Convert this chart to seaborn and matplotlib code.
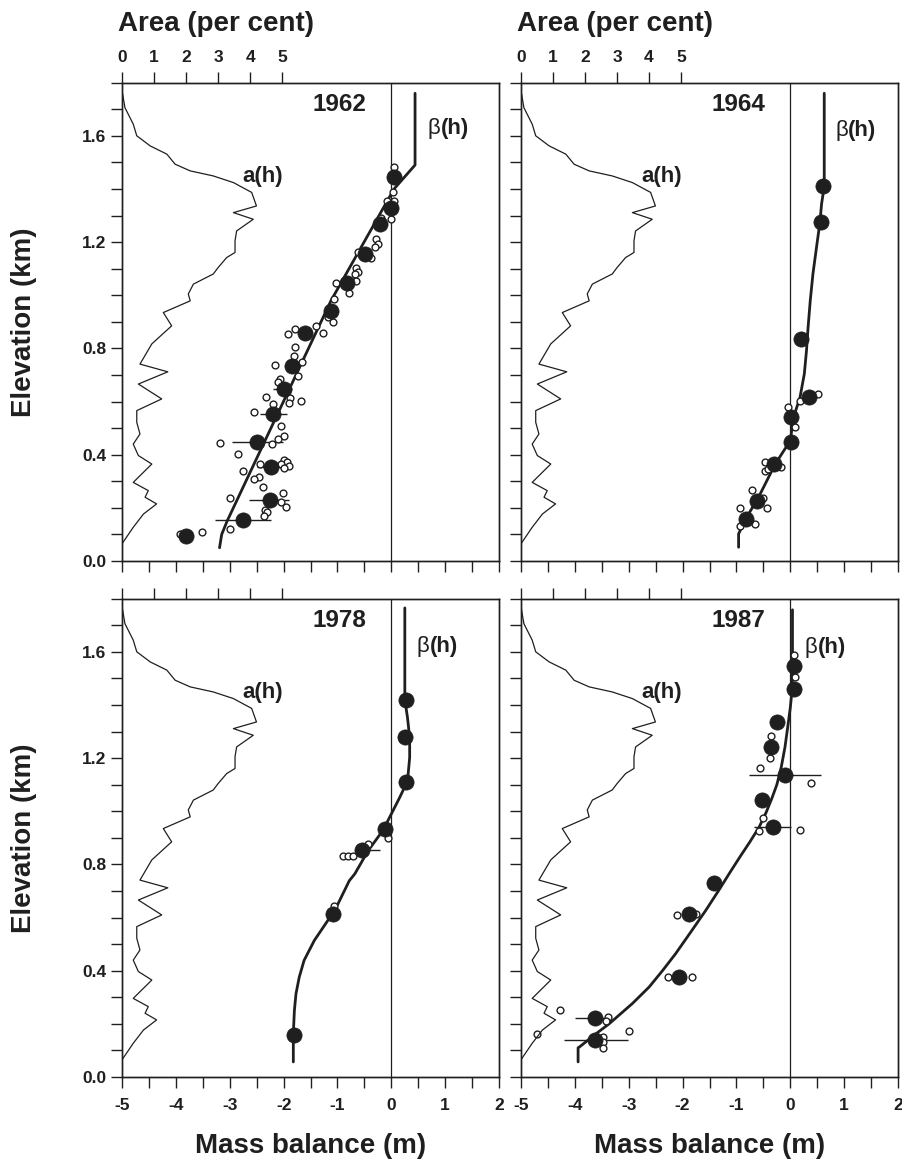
import numpy as np
import pandas as pd
import matplotlib
matplotlib.use("Agg")
import matplotlib.pyplot as plt
import seaborn as sns

# ---------------------------------------------------------------------------
# Area-altitude distribution a(h): per cent of glacier area vs elevation (km)
# ---------------------------------------------------------------------------
AREA_PCT = [0.00, 0.09, 0.35, 0.46, 0.88, 1.40, 1.66, 2.13, 2.85, 3.48, 4.05,
            4.20, 3.48, 4.10, 3.58, 3.53, 3.53, 3.27, 3.00, 2.85, 2.23, 2.07,
            2.13, 1.29, 1.55, 0.93, 0.56, 1.43, 0.51, 1.24, 0.46, 0.46, 0.56,
            0.35, 0.51, 0.93, 0.35, 0.82, 0.72, 1.08, 0.67, 0.35, 0.00]
AREA_H = [1.770, 1.706, 1.644, 1.600, 1.562, 1.531, 1.493, 1.468, 1.449, 1.424,
          1.387, 1.336, 1.311, 1.286, 1.242, 1.205, 1.161, 1.142, 1.104, 1.080,
          1.042, 1.005, 0.979, 0.935, 0.885, 0.817, 0.741, 0.712, 0.666, 0.610,
          0.566, 0.522, 0.478, 0.440, 0.397, 0.365, 0.296, 0.265, 0.240, 0.215,
          0.177, 0.127, 0.065]

YEARS = ["1962", "1964", "1978", "1987"]

# --- 1962 ---------------------------------------------------------------
BETA_1962_B = [-3.19, -3.15, -3.05, -1.12, 0.05, 0.44, 0.44]
BETA_1962_H = [0.05, 0.10, 0.15, 0.98, 1.40, 1.49, 1.76]
MEAN_1962_B = [0.05, -0.01, -0.22, -0.48, -0.82, -1.12, -1.60, -1.85, -2.00,
               -2.19, -2.49, -2.23, -2.26, -2.75, -3.81]
MEAN_1962_H = [1.445, 1.330, 1.268, 1.157, 1.048, 0.942, 0.858, 0.735, 0.647,
               0.553, 0.447, 0.353, 0.231, 0.155, 0.096]
STAKE_1962_B = [0.05, 0.03, -0.09, 0.05, -0.01, -0.20, -0.28, -0.25, -0.31,
                -0.37, -0.62, -0.65, -0.62, -0.68, -1.03, -0.65, -0.78, -1.06,
                -1.18, -1.08, -1.27, -1.40, -1.91, -1.79, -1.79, -1.80, -1.65,
                -2.16, -1.74, -2.07, -2.10, -2.33, -1.88, -1.68, -1.90, -2.19,
                -2.55, -2.05, -2.00, -2.10, -2.21, -3.19, -2.85, -2.43, -2.00,
                -1.94, -2.05, -1.90, -1.99, -2.75, -2.46, -2.55, -2.39, -2.99,
                -2.02, -2.05, -1.96, -2.35, -2.30, -2.36, -2.99, -3.92, -3.51]
STAKE_1962_H = [1.483, 1.387, 1.355, 1.355, 1.286, 1.292, 1.211, 1.192, 1.180,
                1.142, 1.161, 1.104, 1.086, 1.080, 1.048, 1.054, 1.010, 0.986,
                0.917, 0.898, 0.858, 0.885, 0.854, 0.873, 0.804, 0.773, 0.750,
                0.739, 0.697, 0.685, 0.672, 0.616, 0.613, 0.603, 0.593, 0.591,
                0.559, 0.507, 0.472, 0.459, 0.441, 0.443, 0.403, 0.365, 0.380,
                0.371, 0.365, 0.356, 0.349, 0.338, 0.318, 0.309, 0.280, 0.238,
                0.255, 0.221, 0.202, 0.192, 0.183, 0.171, 0.121, 0.102, 0.108]
ERR_1962_H = [0.647, 0.553, 0.447, 0.353, 0.231, 0.155]
ERR_1962_LO = [-2.20, -2.43, -2.95, -2.49, -2.64, -3.27]
ERR_1962_HI = [-1.85, -1.93, -2.02, -1.93, -1.90, -2.23]

# --- 1964 ---------------------------------------------------------------
BETA_1964_B = [0.63, 0.63, 0.58, 0.55, 0.49, 0.42, 0.37, 0.33, 0.30, 0.26,
               0.18, 0.06, 0.00, -0.28, -0.59, -0.81, -0.93, -0.96, -0.96]
BETA_1964_H = [1.76, 1.41, 1.343, 1.274, 1.186, 1.08, 0.979, 0.879, 0.791,
               0.704, 0.616, 0.541, 0.453, 0.365, 0.240, 0.165, 0.115, 0.102,
               0.052]
MEAN_1964_B = [0.61, 0.57, 0.20, 0.35, 0.02, 0.02, -0.30, -0.62, -0.82]
MEAN_1964_H = [1.412, 1.274, 0.835, 0.616, 0.543, 0.447, 0.365, 0.227, 0.159]
STAKE_1964_B = [0.52, 0.18, -0.04, 0.08, -0.47, -0.47, -0.17, -0.42, -0.71,
                -0.50, -0.44, -0.93, -0.65, -0.93]
STAKE_1964_H = [0.629, 0.603, 0.580, 0.506, 0.371, 0.338, 0.353, 0.345, 0.268,
                0.238, 0.200, 0.200, 0.140, 0.130]
ERR_1964_H = []
ERR_1964_LO = []
ERR_1964_HI = []

# --- 1978 ---------------------------------------------------------------
BETA_1978_B = [0.25, 0.25, 0.30, 0.34, 0.34, 0.30, 0.155, 0.00, -0.16, -0.43,
               -0.68, -0.78, -0.99, -1.18, -1.43, -1.62, -1.71, -1.77, -1.80,
               -1.82, -1.82]
BETA_1978_H = [1.765, 1.42, 1.352, 1.277, 1.202, 1.114, 1.052, 0.99, 0.927,
               0.852, 0.764, 0.739, 0.652, 0.589, 0.514, 0.439, 0.376, 0.314,
               0.251, 0.164, 0.057]
MEAN_1978_B = [0.28, 0.26, 0.28, -0.125, -0.54, -1.09, -1.80]
MEAN_1978_H = [1.417, 1.280, 1.111, 0.933, 0.855, 0.614, 0.160]
STAKE_1978_B = [-0.07, -0.90, -0.81, -0.71, -0.43, -1.06]
STAKE_1978_H = [0.898, 0.830, 0.830, 0.833, 0.877, 0.645]
ERR_1978_H = [0.855]
ERR_1978_LO = [-0.68]
ERR_1978_HI = [-0.22]

# --- 1987 ---------------------------------------------------------------
BETA_1987_B = [0.04, 0.04, 0.03, 0.00, -0.05, -0.10, -0.17, -0.25, -0.34,
               -0.45, -0.58, -0.75, -0.93, -1.12, -1.33, -1.57, -1.85, -2.13,
               -2.37, -2.62, -2.93, -3.36, -3.60, -3.91, -3.94, -3.94]
BETA_1987_H = [1.758, 1.52, 1.45, 1.39, 1.314, 1.24, 1.164, 1.10, 1.05, 0.995,
               0.940, 0.885, 0.830, 0.770, 0.702, 0.627, 0.545, 0.464, 0.401,
               0.339, 0.277, 0.201, 0.164, 0.114, 0.110, 0.057]
MEAN_1987_B = [0.07, 0.07, -0.25, -0.35, -0.09, -0.53, -0.33, -1.42, -1.88,
               -2.07, -3.62, -3.62]
MEAN_1987_H = [1.546, 1.459, 1.337, 1.242, 1.137, 1.042, 0.942, 0.729, 0.612,
               0.376, 0.223, 0.139]
STAKE_1987_B = [0.07, 0.08, -0.35, -0.37, -0.56, 0.38, -0.51, -0.59, 0.18,
                -2.11, -1.76, -2.28, -1.83, -4.27, -3.39, -3.42, -4.71, -2.99,
                -3.48, -3.47, -3.48]
STAKE_1987_H = [1.587, 1.505, 1.283, 1.202, 1.162, 1.108, 0.973, 0.924, 0.929,
                0.608, 0.612, 0.376, 0.376, 0.254, 0.226, 0.211, 0.161, 0.174,
                0.151, 0.132, 0.108]
ERR_1987_H = [1.137, 0.942, 0.223, 0.139]
ERR_1987_LO = [-0.76, -0.68, -4.00, -4.21]
ERR_1987_HI = [0.57, 0.02, -3.36, -3.02]

# Label anchors (mass balance m, elevation km) for the β(h) annotation
BETA_LABEL_B = [0.67, 0.83, 0.47, 0.27]
BETA_LABEL_H = [1.626, 1.620, 1.620, 1.615]

MB_TICKS = [-5, -4, -3, -2, -1, 0, 1, 2]
AREA_TICKS = [0, 1, 2, 3, 4, 5]
ELEV_TICKS = ["0.0", "0.4", "0.8", "1.2", "1.6"]

# ---------------------------------------------------------------------------
INK = "#1f1f1f"
sns.set_theme(style="ticks")
plt.rcParams["font.family"] = ["Liberation Sans", "DejaVu Sans"]
plt.rcParams.update({
    "font.weight": "bold",
    "axes.labelweight": "bold",
    "axes.edgecolor": INK,
    "axes.linewidth": 1.0,
    "xtick.color": INK,
    "ytick.color": INK,
    "text.color": INK,
    "axes.labelcolor": INK,
    "axes.facecolor": "white",
    "figure.facecolor": "white",
})

panels = {
    "1962": (BETA_1962_B, BETA_1962_H, MEAN_1962_B, MEAN_1962_H, STAKE_1962_B,
             STAKE_1962_H, ERR_1962_H, ERR_1962_LO, ERR_1962_HI),
    "1964": (BETA_1964_B, BETA_1964_H, MEAN_1964_B, MEAN_1964_H, STAKE_1964_B,
             STAKE_1964_H, ERR_1964_H, ERR_1964_LO, ERR_1964_HI),
    "1978": (BETA_1978_B, BETA_1978_H, MEAN_1978_B, MEAN_1978_H, STAKE_1978_B,
             STAKE_1978_H, ERR_1978_H, ERR_1978_LO, ERR_1978_HI),
    "1987": (BETA_1987_B, BETA_1987_H, MEAN_1987_B, MEAN_1987_H, STAKE_1987_B,
             STAKE_1987_H, ERR_1987_H, ERR_1987_LO, ERR_1987_HI),
}

area_df = pd.DataFrame({"area": AREA_PCT, "elev": AREA_H})

fig = plt.figure(figsize=(9.02, 11.64), dpi=100)
W = 0.4180
LEFTS = [0.1353, 0.5776]
BOTTOMS = [0.5180, 0.0747]
H = 0.4110
AREA_MAX = 11.78  # per cent spanned by the panel width

TICK_LEN = 8
for idx, year in enumerate(YEARS):
    row, col = divmod(idx, 2)
    ax = fig.add_axes([LEFTS[col], BOTTOMS[row], W, H])
    bb, bh, mb, mh, sb, sh, eh, elo, ehi = panels[year]

    ax.set_xlim(-5, 2)
    ax.set_ylim(0, 1.8)
    ax.axvline(0, color=INK, lw=0.9, zorder=1)

    sns.lineplot(data=pd.DataFrame({"b": bb, "h": bh}), x="b", y="h",
                 sort=False, estimator=None, color=INK, lw=2.0, ax=ax,
                 zorder=3)
    if eh:
        ax.hlines(eh, elo, ehi, color=INK, lw=1.0, zorder=2)
    sns.scatterplot(x=sb, y=sh, marker="o", s=24, facecolor="white",
                    edgecolor=INK, linewidth=1.0, ax=ax, zorder=4)
    sns.scatterplot(x=mb, y=mh, marker="o", s=120, color=INK,
                    edgecolor=INK, linewidth=0.5, ax=ax, zorder=5)

    # mass-balance axis
    xt = np.arange(-5, 2.01, 0.5)
    ax.set_xticks(xt)
    if row == 1:
        ax.set_xticklabels([str(int(v)) if float(v).is_integer() else ""
                            for v in xt])
        ax.set_xlabel("Mass balance (m)", fontsize=20)
        ax.xaxis.set_label_coords(0.5, -0.117)
    else:
        ax.set_xticklabels([])
        ax.set_xlabel("")

    yt = np.round(np.arange(0, 1.801, 0.1), 1)
    ax.set_yticks(yt)
    if col == 0:
        ax.set_yticklabels([f"{v:.1f}" if f"{v:.1f}" in ELEV_TICKS else ""
                            for v in yt])
        ax.set_ylabel("Elevation (km)", fontsize=20)
        ax.yaxis.set_label_coords(-0.226, 0.5)
    else:
        ax.set_yticklabels([])
        ax.set_ylabel("")

    ax.tick_params(axis="x", direction="out", length=TICK_LEN, width=1.0,
                   labelsize=12.5, pad=7)
    ax.tick_params(axis="y", direction="out", length=TICK_LEN, width=1.0,
                   labelsize=12.5, pad=3.5)

    # area axis on top
    ax_a = ax.twiny()
    ax_a.set_xlim(0, AREA_MAX)
    sns.lineplot(data=area_df, x="area", y="elev", sort=False,
                 estimator=None, color=INK, lw=0.9, ax=ax_a)
    ax_a.set_xticks(AREA_TICKS)
    ax_a.tick_params(axis="x", direction="out", length=TICK_LEN, width=1.0,
                     labelsize=12.5, pad=5)
    if row == 0:
        ax_a.set_xticklabels([str(v) for v in AREA_TICKS])
        ax_a.set_xlabel("Area (per cent)", fontsize=20)
        ax_a.xaxis.set_label_coords(0.25, 1.107)
    else:
        ax_a.set_xticklabels([])
        ax_a.set_xlabel("")
    ax_a.set_ylabel("")
    for sp in ax_a.spines.values():
        sp.set_linewidth(1.0)

    ax.text(-0.47, 1.718, year, ha="right", va="center", fontsize=17.5,
            fontweight="bold")
    ax.text(-2.77, 1.445, "a(h)", ha="left", va="center", fontsize=16,
            fontweight="bold")
    ax.annotate("β", (BETA_LABEL_B[idx], BETA_LABEL_H[idx]), ha="left",
                va="center", fontsize=16, fontweight="normal")
    ax.annotate("(h)", (BETA_LABEL_B[idx], BETA_LABEL_H[idx]),
                xytext=(9.5, 0), textcoords="offset points", ha="left",
                va="center", fontsize=16, fontweight="bold")

fig.savefig("out.png", dpi=100)
